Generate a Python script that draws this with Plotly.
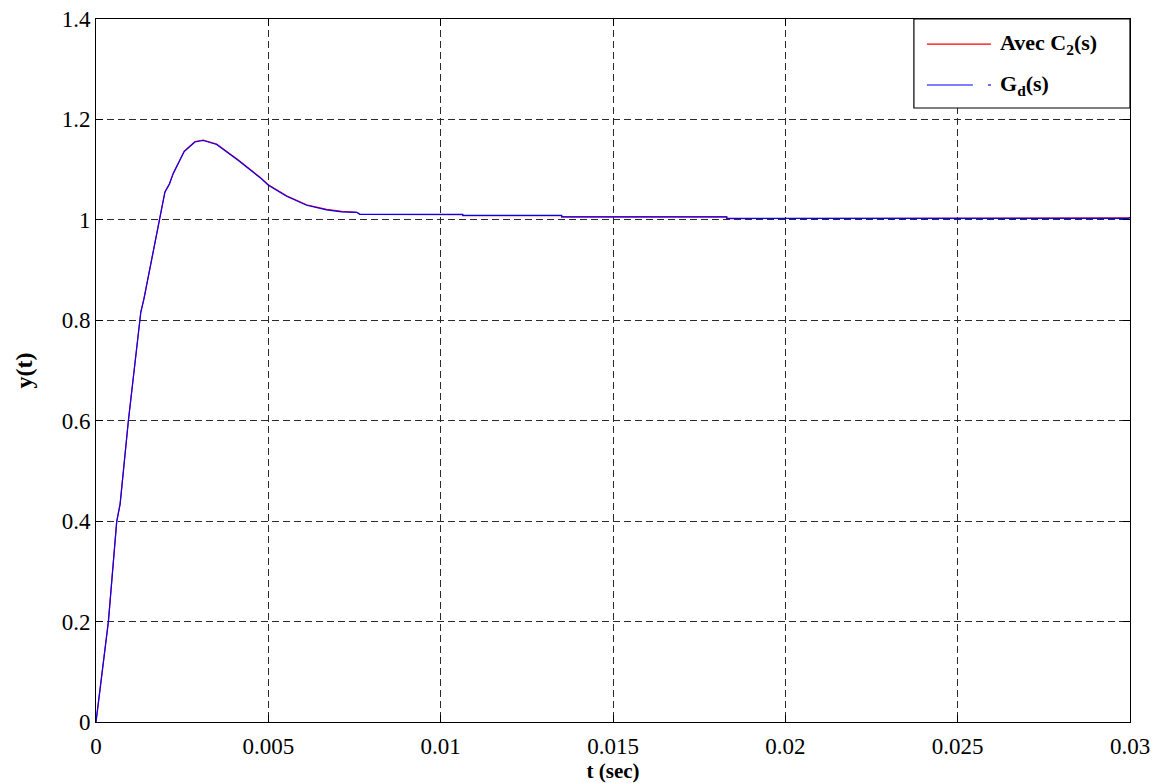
import plotly.graph_objects as go

# Step response samples
t_gd = [0, 0.00021, 0.00036, 0.0006, 0.0007, 0.00094, 0.00113, 0.0013, 0.00139,
        0.00157, 0.00181, 0.0020, 0.00213, 0.00224, 0.00256, 0.00287, 0.00311,
        0.0035, 0.00413, 0.00476, 0.0050, 0.00553, 0.00611, 0.00669, 0.00713,
        0.00756, 0.00766, 0.01064, 0.01064, 0.01351, 0.01351, 0.0183, 0.0183,
        0.02995, 0.03]
y_gd = [0, 0.118, 0.20, 0.398, 0.434, 0.60, 0.718, 0.816, 0.842,
        0.905, 0.994, 1.055, 1.071, 1.092, 1.136, 1.155, 1.158,
        1.150, 1.118, 1.084, 1.069, 1.047, 1.029, 1.020, 1.016,
        1.015, 1.011, 1.0108, 1.0088, 1.0088, 1.006, 1.006, 1.0028,
        1.0028, 1.005]

t_c2 = [0, 0.00021, 0.00036, 0.0006, 0.0007, 0.00094, 0.00113, 0.0013, 0.00139,
        0.00157, 0.00181, 0.0020, 0.00213, 0.00224, 0.00256, 0.00287, 0.00311,
        0.0035, 0.00413, 0.00476, 0.0050, 0.00553, 0.00611, 0.00669, 0.00713,
        0.00756, 0.00766, 0.01064, 0.01064, 0.01351, 0.01351, 0.0183, 0.0183,
        0.02995, 0.03]
y_c2 = [0, 0.119, 0.201, 0.399, 0.435, 0.601, 0.719, 0.817, 0.843,
        0.906, 0.995, 1.056, 1.072, 1.093, 1.137, 1.156, 1.159,
        1.151, 1.119, 1.085, 1.070, 1.048, 1.030, 1.021, 1.017,
        1.015, 1.011, 1.0106, 1.0086, 1.0086, 1.0058, 1.0058, 1.0026,
        1.0026, 1.004]

x_ticks = [0, 0.005, 0.01, 0.015, 0.02, 0.025, 0.03]
x_tick_labels = ["0", "0.005", "0.01", "0.015", "0.02", "0.025", "0.03"]
y_ticks = [0, 0.2, 0.4, 0.6, 0.8, 1.0, 1.2, 1.4]
y_tick_labels = ["0", "0.2", "0.4", "0.6", "0.8", "1", "1.2", "1.4"]

legend_labels = ["<b>Avec C<sub>2</sub>(s)</b>", "<b>G<sub>d</sub>(s)</b>"]
legend_colors = ["#ff0000", "#0000ff"]

FONT = "'Liberation Serif', 'DejaVu Serif', serif"

fig = go.Figure()
fig.add_trace(go.Scatter(x=t_c2, y=y_c2, mode="lines", name="Avec C2(s)",
                         line=dict(color=legend_colors[0], width=1.2), showlegend=False))
fig.add_trace(go.Scatter(x=t_gd, y=y_gd, mode="lines", name="Gd(s)",
                         line=dict(color=legend_colors[1], width=1.2), showlegend=False))

axis_common = dict(
    showline=True, linecolor="black", linewidth=1, mirror="ticks",
    ticks="inside", ticklen=7, tickcolor="black",
    showgrid=True, gridcolor="#2a2a2a", gridwidth=1, griddash="7px,4px",
    zeroline=False, ticklabeloverflow="allow", automargin=False,
    tickfont=dict(family=FONT, size=23, color="black"),
)

fig.update_xaxes(range=[0, 0.03], tickvals=x_ticks, ticktext=x_tick_labels,
                 ticklabelstandoff=3,
                 title=dict(text="<b>t (sec)</b>", font=dict(family=FONT, size=21, color="black"),
                            standoff=10),
                 **axis_common)
fig.update_yaxes(range=[0, 1.4], tickvals=y_ticks, ticktext=y_tick_labels,
                 title=dict(text="<b>y(t)</b>", font=dict(family=FONT, size=24, color="black"),
                            standoff=22),
                 **axis_common)

# Legend box (drawn in paper coordinates of the plot area)
box_x0, box_x1 = 0.791, 1.0
box_y0, box_y1 = 0.8734, 1.0
fig.add_shape(type="rect", xref="paper", yref="paper", x0=box_x0, x1=box_x1,
              y0=box_y0, y1=box_y1, line=dict(color="black", width=1.2),
              fillcolor="white", layer="above")
entry_y = [0.9644, 0.9061]
sample_segments = [[(0.8036, 0.8655)], [(0.8036, 0.8481), (0.8627, 0.8655)]]
for lab, col, yy, segs in zip(legend_labels, legend_colors, entry_y, sample_segments):
    for a, b in segs:
        fig.add_shape(type="line", xref="paper", yref="paper", x0=a, x1=b,
                      y0=yy, y1=yy, line=dict(color=col, width=1.2), layer="above")
    fig.add_annotation(xref="paper", yref="paper", x=0.8723, y=yy, text=lab,
                       showarrow=False, xanchor="left", yanchor="middle",
                       font=dict(family=FONT, size=22, color="black"))

fig.update_layout(
    width=1158, height=783,
    margin=dict(l=96, r=28, t=19, b=61),
    paper_bgcolor="white", plot_bgcolor="white",
    font=dict(family=FONT, color="black"),
)

fig.write_html(
    "out.html",
    config={"displayModeBar": False},
    post_script="document.body.style.margin='0';document.documentElement.style.overflow='hidden';",
)
